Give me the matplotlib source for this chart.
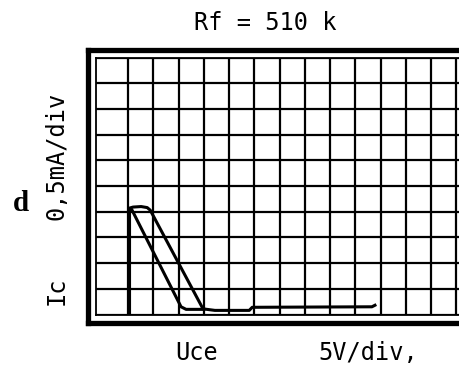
import numpy as np
import matplotlib.pyplot as plt

# grid / scale settings (5 V/div, 0.5 mA/div)
x_ticks = [0, 5, 10, 15, 20, 25, 30, 35, 40, 45, 50, 55, 60, 65]
y_ticks = [0, 0.5, 1.0, 1.5, 2.0, 2.5, 3.0, 3.5, 4.0, 4.5, 5.0]

# trace: Uce [V], Ic [mA]
uce_fwd = [0.3, 0.3, 1.0, 2.6, 3.8, 4.4, 14.85, 17.2, 24.0, 24.6, 48.3, 48.9]
ic_fwd = [0.0, 2.07, 2.09, 2.10, 2.08, 2.03, 0.11, 0.08, 0.08, 0.14, 0.15, 0.18]

uce_back = [15.0, 11.5, 10.5, 0.8]
ic_back = [0.10, 0.10, 0.15, 2.03]

W, H = 460, 365
fig = plt.figure(figsize=(4.6, 3.65), dpi=100)

# thick outer frame
ax0 = fig.add_axes([88.5/W, (H-322.5)/H, (480-88.5)/W, (322.5-49.5)/H])
ax0.set_xticks([])
ax0.set_yticks([])
for s in ax0.spines.values():
    s.set_linewidth(3.8)

# screen
ax = fig.add_axes([96/W, (H-314.5)/H, (466-96)/W, (314.5-57.5)/H])
ax.set_xlim(-6.34, 66.93)
ax.set_ylim(0, 5)
ax.set_xticks(x_ticks)
ax.set_yticks(y_ticks)
ax.tick_params(length=0, labelbottom=False, labelleft=False)
ax.grid(True, color='black', linewidth=1.6)
for s in ax.spines.values():
    s.set_linewidth(1.3)

ax.plot(uce_fwd, ic_fwd, color='black', lw=2.2, solid_joinstyle='round')
ax.plot(uce_back, ic_back, color='black', lw=2.2, solid_joinstyle='round')

mono = 'DejaVu Sans Mono'
fig.text(265/W, 1-23/H, 'Rf = 510 k', family=mono, fontsize=17, ha='center', va='center')
fig.text(57/W, 1-291/H, 'Ic', family=mono, fontsize=17, rotation=90, ha='center', va='center')
fig.text(57/W, 1-156/H, '0,5mA/div', family=mono, fontsize=17, rotation=90, ha='center', va='center')
fig.text(197/W, 1-353/H, 'Uce', family=mono, fontsize=17, ha='center', va='center')
fig.text(368/W, 1-353/H, '5V/div,', family=mono, fontsize=17, ha='center', va='center')
fig.text(21/W, 1-203/H, 'd', family='Liberation Serif', fontweight='bold', fontsize=21, ha='center', va='center')

plt.savefig('out.png', dpi=100)
